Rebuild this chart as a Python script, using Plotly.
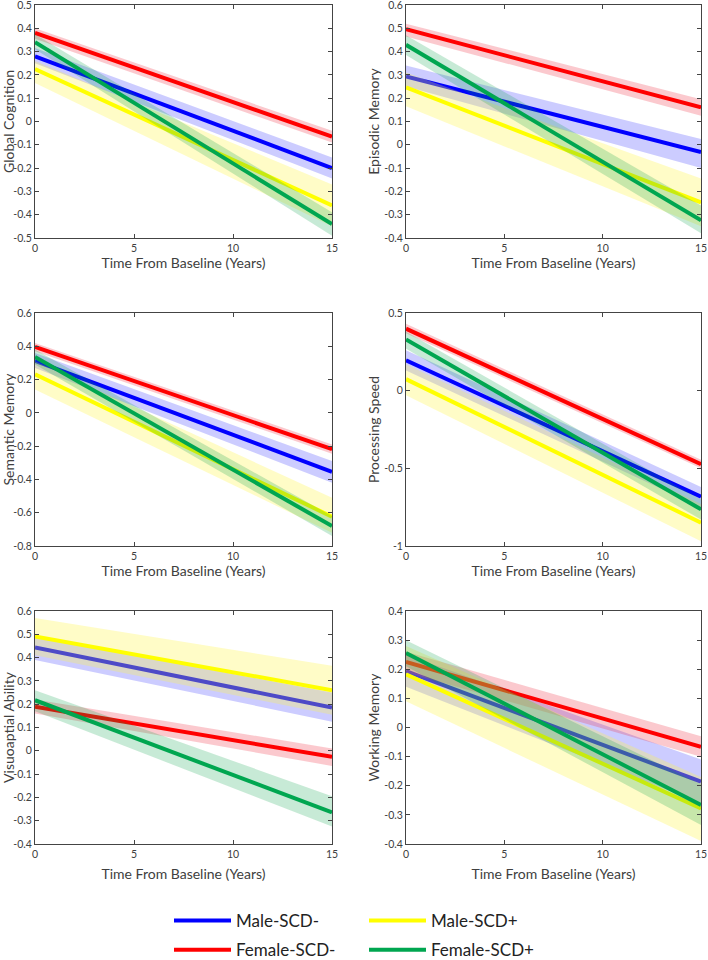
import plotly.graph_objects as go

# ---------------- data ----------------
groups = ["Male-SCD-", "Female-SCD-", "Male-SCD+", "Female-SCD+"]
line_colors = ["#0000FF", "#FF0000", "#FFFF00", "#00A650"]
band_colors = ["rgba(0,0,255,0.20)", "rgba(240,40,60,0.25)",
               "rgba(255,245,70,0.30)", "rgba(0,160,70,0.22)"]
years = [0, 15]

titles = ["Global Cognition", "Episodic Memory", "Semantic Memory",
          "Processing Speed", "Visuoaptial Ability", "Working Memory"]

# order within each list: Male-SCD-, Female-SCD-, Male-SCD+, Female-SCD+
gc_start = [0.28, 0.38, 0.225, 0.34]
gc_end = [-0.20, -0.065, -0.36, -0.44]
gc_lo0 = [0.25, 0.355, 0.165, 0.31]
gc_hi0 = [0.315, 0.40, 0.26, 0.375]
gc_lo15 = [-0.245, -0.09, -0.45, -0.49]
gc_hi15 = [-0.155, -0.04, -0.27, -0.39]

em_start = [0.293, 0.496, 0.247, 0.429]
em_end = [-0.031, 0.161, -0.247, -0.324]
em_lo0 = [0.25, 0.465, 0.165, 0.385]
em_hi0 = [0.34, 0.52, 0.31, 0.47]
em_lo15 = [-0.10, 0.125, -0.35, -0.38]
em_hi15 = [0.025, 0.195, -0.145, -0.26]

sm_start = [0.312, 0.396, 0.232, 0.336]
sm_end = [-0.354, -0.218, -0.624, -0.68]
sm_lo0 = [0.27, 0.37, 0.14, 0.29]
sm_hi0 = [0.36, 0.42, 0.31, 0.38]
sm_lo15 = [-0.42, -0.245, -0.72, -0.74]
sm_hi15 = [-0.29, -0.19, -0.51, -0.62]

ps_start = [0.196, 0.399, 0.074, 0.329]
ps_end = [-0.683, -0.473, -0.85, -0.764]
ps_lo0 = [0.13, 0.37, -0.03, 0.27]
ps_hi0 = [0.26, 0.43, 0.17, 0.38]
ps_lo15 = [-0.75, -0.50, -0.97, -0.83]
ps_hi15 = [-0.62, -0.445, -0.73, -0.70]

va_start = [0.443, 0.189, 0.491, 0.217]
va_end = [0.186, -0.026, 0.26, -0.264]
va_lo0 = [0.39, 0.16, 0.41, 0.17]
va_hi0 = [0.49, 0.22, 0.57, 0.26]
va_lo15 = [0.125, -0.065, 0.155, -0.325]
va_hi15 = [0.25, 0.01, 0.365, -0.195]

wm_start = [0.194, 0.225, 0.183, 0.256]
wm_end = [-0.186, -0.066, -0.278, -0.266]
wm_lo0 = [0.14, 0.19, 0.09, 0.21]
wm_hi0 = [0.25, 0.26, 0.28, 0.30]
wm_lo15 = [-0.26, -0.10, -0.39, -0.335]
wm_hi15 = [-0.11, -0.03, -0.17, -0.195]

x_ticks = [0, 5, 10, 15]
x_labels = ["0", "5", "10", "15"]

gc_ticks = [0.5, 0.4, 0.3, 0.2, 0.1, 0, -0.1, -0.2, -0.3, -0.4, -0.5]
gc_labels = ["0.5", "0.4", "0.3", "0.2", "0.1", "0", "-0.1", "-0.2", "-0.3", "-0.4", "-0.5"]
em_ticks = [0.6, 0.5, 0.4, 0.3, 0.2, 0.1, 0, -0.1, -0.2, -0.3, -0.4]
em_labels = ["0.6", "0.5", "0.4", "0.3", "0.2", "0.1", "0", "-0.1", "-0.2", "-0.3", "-0.4"]
sm_ticks = [0.6, 0.4, 0.2, 0, -0.2, -0.4, -0.6, -0.8]
sm_labels = ["0.6", "0.4", "0.2", "0", "-0.2", "-0.4", "-0.6", "-0.8"]
ps_ticks = [0.5, 0, -0.5, -1]
ps_labels = ["0.5", "0", "-0.5", "-1"]
va_ticks = [0.6, 0.5, 0.4, 0.3, 0.2, 0.1, 0, -0.1, -0.2, -0.3, -0.4]
va_labels = ["0.6", "0.5", "0.4", "0.3", "0.2", "0.1", "0", "-0.1", "-0.2", "-0.3", "-0.4"]
wm_ticks = [0.4, 0.3, 0.2, 0.1, 0, -0.1, -0.2, -0.3, -0.4]
wm_labels = ["0.4", "0.3", "0.2", "0.1", "0", "-0.1", "-0.2", "-0.3", "-0.4"]

panels = [
    (gc_start, gc_end, gc_lo0, gc_hi0, gc_lo15, gc_hi15, gc_ticks, gc_labels, [-0.5, 0.5]),
    (em_start, em_end, em_lo0, em_hi0, em_lo15, em_hi15, em_ticks, em_labels, [-0.4, 0.6]),
    (sm_start, sm_end, sm_lo0, sm_hi0, sm_lo15, sm_hi15, sm_ticks, sm_labels, [-0.8, 0.6]),
    (ps_start, ps_end, ps_lo0, ps_hi0, ps_lo15, ps_hi15, ps_ticks, ps_labels, [-1, 0.5]),
    (va_start, va_end, va_lo0, va_hi0, va_lo15, va_hi15, va_ticks, va_labels, [-0.4, 0.6]),
    (wm_start, wm_end, wm_lo0, wm_hi0, wm_lo15, wm_hi15, wm_ticks, wm_labels, [-0.4, 0.4]),
]

# ---------------- layout geometry (pixels) ----------------
W, H = 708, 960
ML, MR, MT, MB = 35, 7, 5, 116
PW, PH = W - ML - MR, H - MT - MB
col_px = [(35, 332), (406, 701)]
row_px = [(5, 238), (313, 546), (611, 844)]


def dx(px):
    return (px - ML) / PW


def dy(py):
    return 1 - (py - MT) / PH


FONT = "Lato, 'Open Sans', sans-serif"
fig = go.Figure()
layout = dict(
    width=W, height=H,
    margin=dict(l=ML, r=MR, t=MT, b=MB, autoexpand=False),
    paper_bgcolor="white", plot_bgcolor="white",
    font=dict(family=FONT, color="#404040"),
)

for p, (st, en, lo0, hi0, lo15, hi15, yt, yl, yr) in enumerate(panels):
    r, c = divmod(p, 2)
    n = p + 1
    xa = "x" if n == 1 else f"x{n}"
    ya = "y" if n == 1 else f"y{n}"
    for g in range(4):
        fig.add_trace(go.Scatter(
            x=[years[0], years[1], years[1], years[0]],
            y=[lo0[g], lo15[g], hi15[g], hi0[g]],
            fill="toself", fillcolor=band_colors[g], mode="lines",
            line=dict(width=0), hoverinfo="skip", showlegend=False,
            xaxis=xa, yaxis=ya))
        fig.add_trace(go.Scatter(
            x=years, y=[st[g], en[g]], mode="lines",
            line=dict(color=line_colors[g], width=4),
            name=groups[g], showlegend=(p == 0),
            legend="legend" if g in (0, 1) else "legend2",
            legendgroup=groups[g],
            xaxis=xa, yaxis=ya))
    x0, x1 = col_px[c]
    y0, y1 = row_px[r]
    axcommon = dict(showline=True, mirror="ticks", linecolor="#444", linewidth=1,
                    ticks="inside", ticklen=4, tickcolor="#444",
                    showgrid=False, zeroline=False, ticklabeloverflow="allow",
                    tickfont=dict(size=10.5, family=FONT, color="#404040"))
    layout["xaxis" if n == 1 else f"xaxis{n}"] = dict(
        domain=[dx(x0), dx(x1)], anchor=ya, range=[0, 15],
        tickvals=x_ticks, ticktext=x_labels,
        title=dict(text="Time From Baseline (Years)",
                   font=dict(size=14, family=FONT, color="#404040"),
                   standoff=(10 if r == 2 else 2)),
        **axcommon)
    layout["yaxis" if n == 1 else f"yaxis{n}"] = dict(
        domain=[dy(y1), dy(y0)], anchor=xa, range=yr,
        tickvals=yt, ticktext=yl, ticklabelstandoff=0,
        title=dict(text=titles[p],
                   font=dict(size=14, family=FONT, color="#404040"),
                   standoff=1),
        **axcommon)

leg_common = dict(orientation="v", xanchor="left", yanchor="top",
                  font=dict(size=17, family=FONT, color="#222"),
                  itemwidth=57, tracegroupgap=4, bgcolor="rgba(0,0,0,0)")
layout["legend"] = dict(x=dx(169), y=dy(903), **leg_common)
layout["legend2"] = dict(x=dx(364), y=dy(903), **leg_common)

fig.update_layout(**layout)
fig.write_html("out.html",
               config={"displayModeBar": False},
               post_script="document.body.style.margin='0';"
                           "document.body.style.overflow='hidden';")
